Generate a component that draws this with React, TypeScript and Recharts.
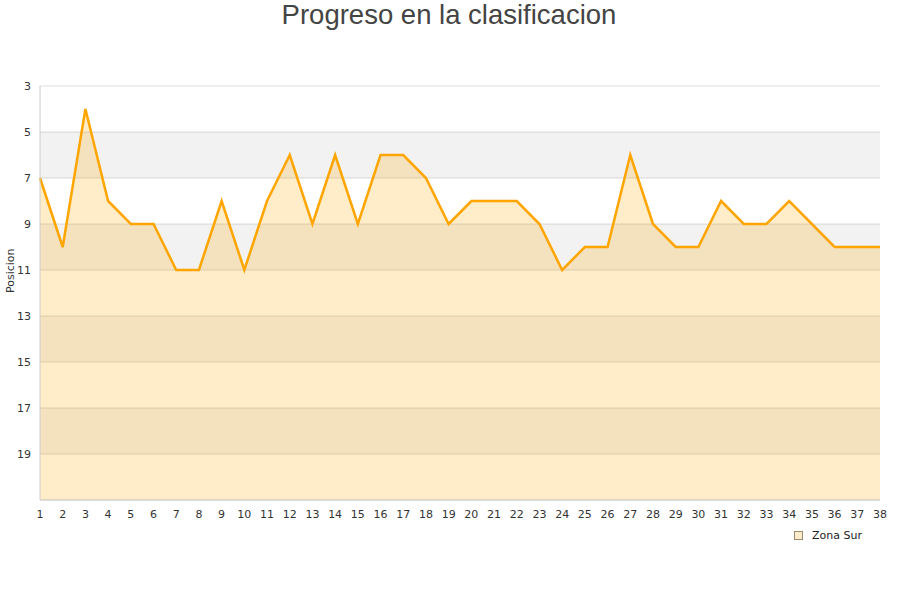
import { AreaChart, Area, Line, XAxis, YAxis, CartesianGrid, ReferenceArea } from "recharts";

const jornadas = [
  1, 2, 3, 4, 5, 6, 7, 8, 9, 10, 11, 12, 13, 14, 15, 16, 17, 18, 19,
  20, 21, 22, 23, 24, 25, 26, 27, 28, 29, 30, 31, 32, 33, 34, 35, 36, 37, 38,
];
const posiciones = [
  7, 10, 4, 8, 9, 9, 11, 11, 8, 11, 8, 6, 9, 6, 9, 6, 6, 7, 9,
  8, 8, 8, 9, 11, 10, 10, 6, 9, 10, 10, 8, 9, 9, 8, 9, 10, 10, 10,
];
const yTicks = [3, 5, 7, 9, 11, 13, 15, 17, 19];
const bands = [[5, 7], [9, 11], [13, 15], [17, 19]];

const data = jornadas.map((j, i) => ({ jornada: j, pos: posiciones[i] }));

const tickStyle = { fontSize: 11, fill: "#333", fontFamily: "DejaVu Sans" };

const App = () => {
  return (
    <div style={{ position: "absolute", left: 0, top: 0, width: 900, height: 600, background: "#fff" }}>
      <div
        style={{
          position: "absolute",
          top: -1,
          width: 898,
          textAlign: "center",
          fontFamily: "Liberation Sans, Arial, sans-serif",
          fontSize: 27.5,
          color: "#444",
          lineHeight: "32px",
        }}
      >
        Progreso en la clasificacion
      </div>
      <AreaChart width={900} height={600} data={data} margin={{ top: 86, right: 20, bottom: 70, left: 0 }}>
        <CartesianGrid vertical={false} stroke="#ddd" />
        {bands.map(([a, b], idx) => (
          <ReferenceArea key={`band-${idx}`} y1={a} y2={b} fill="#000" fillOpacity={0.05} stroke="none" ifOverflow="hidden" />
        ))}
        <XAxis
          dataKey="jornada"
          tick={tickStyle}
          tickLine={false}
          axisLine={{ stroke: "#ccc" }}
          interval={0}
          height={30}
          tickMargin={4}
        />
        <YAxis
          reversed
          type="number"
          domain={[3, 21]}
          ticks={yTicks}
          tick={tickStyle}
          tickLine={false}
          axisLine={{ stroke: "#ccc" }}
          width={40}
          interval={0}
          tickMargin={3}
          label={{ value: "Posicion", angle: -90, position: "insideLeft", offset: 10, style: { fontSize: 11, fill: "#333", fontFamily: "DejaVu Sans" } }}
        />
        <YAxis yAxisId="right" orientation="right" width={0} tick={false} tickLine={false} axisLine={{ stroke: "#ccc" }} />
        <XAxis xAxisId="top" orientation="top" height={0} tick={false} tickLine={false} axisLine={{ stroke: "#ccc" }} />
        <Area
          type="linear"
          dataKey="pos"
          baseValue="dataMax"
          stroke="none"
          fill="#FFA500"
          fillOpacity={0.21}
          isAnimationActive={false}
        />
        <Line
          type="linear"
          dataKey="pos"
          stroke="#FFA500"
          strokeWidth={2.5}
          dot={false}
          activeDot={false}
          isAnimationActive={false}
        />
      </AreaChart>
      <div
        style={{
          position: "absolute",
          top: 529,
          left: 794,
          display: "flex",
          alignItems: "center",
          fontFamily: "DejaVu Sans",
          fontSize: 11,
          color: "#222",
        }}
      >
        <span style={{ display: "inline-block", width: 7, height: 7, background: "#FFECC9", border: "1px solid #9a8a70", marginRight: 9 }} />
        Zona Sur
      </div>
    </div>
  );
};

export default App;
